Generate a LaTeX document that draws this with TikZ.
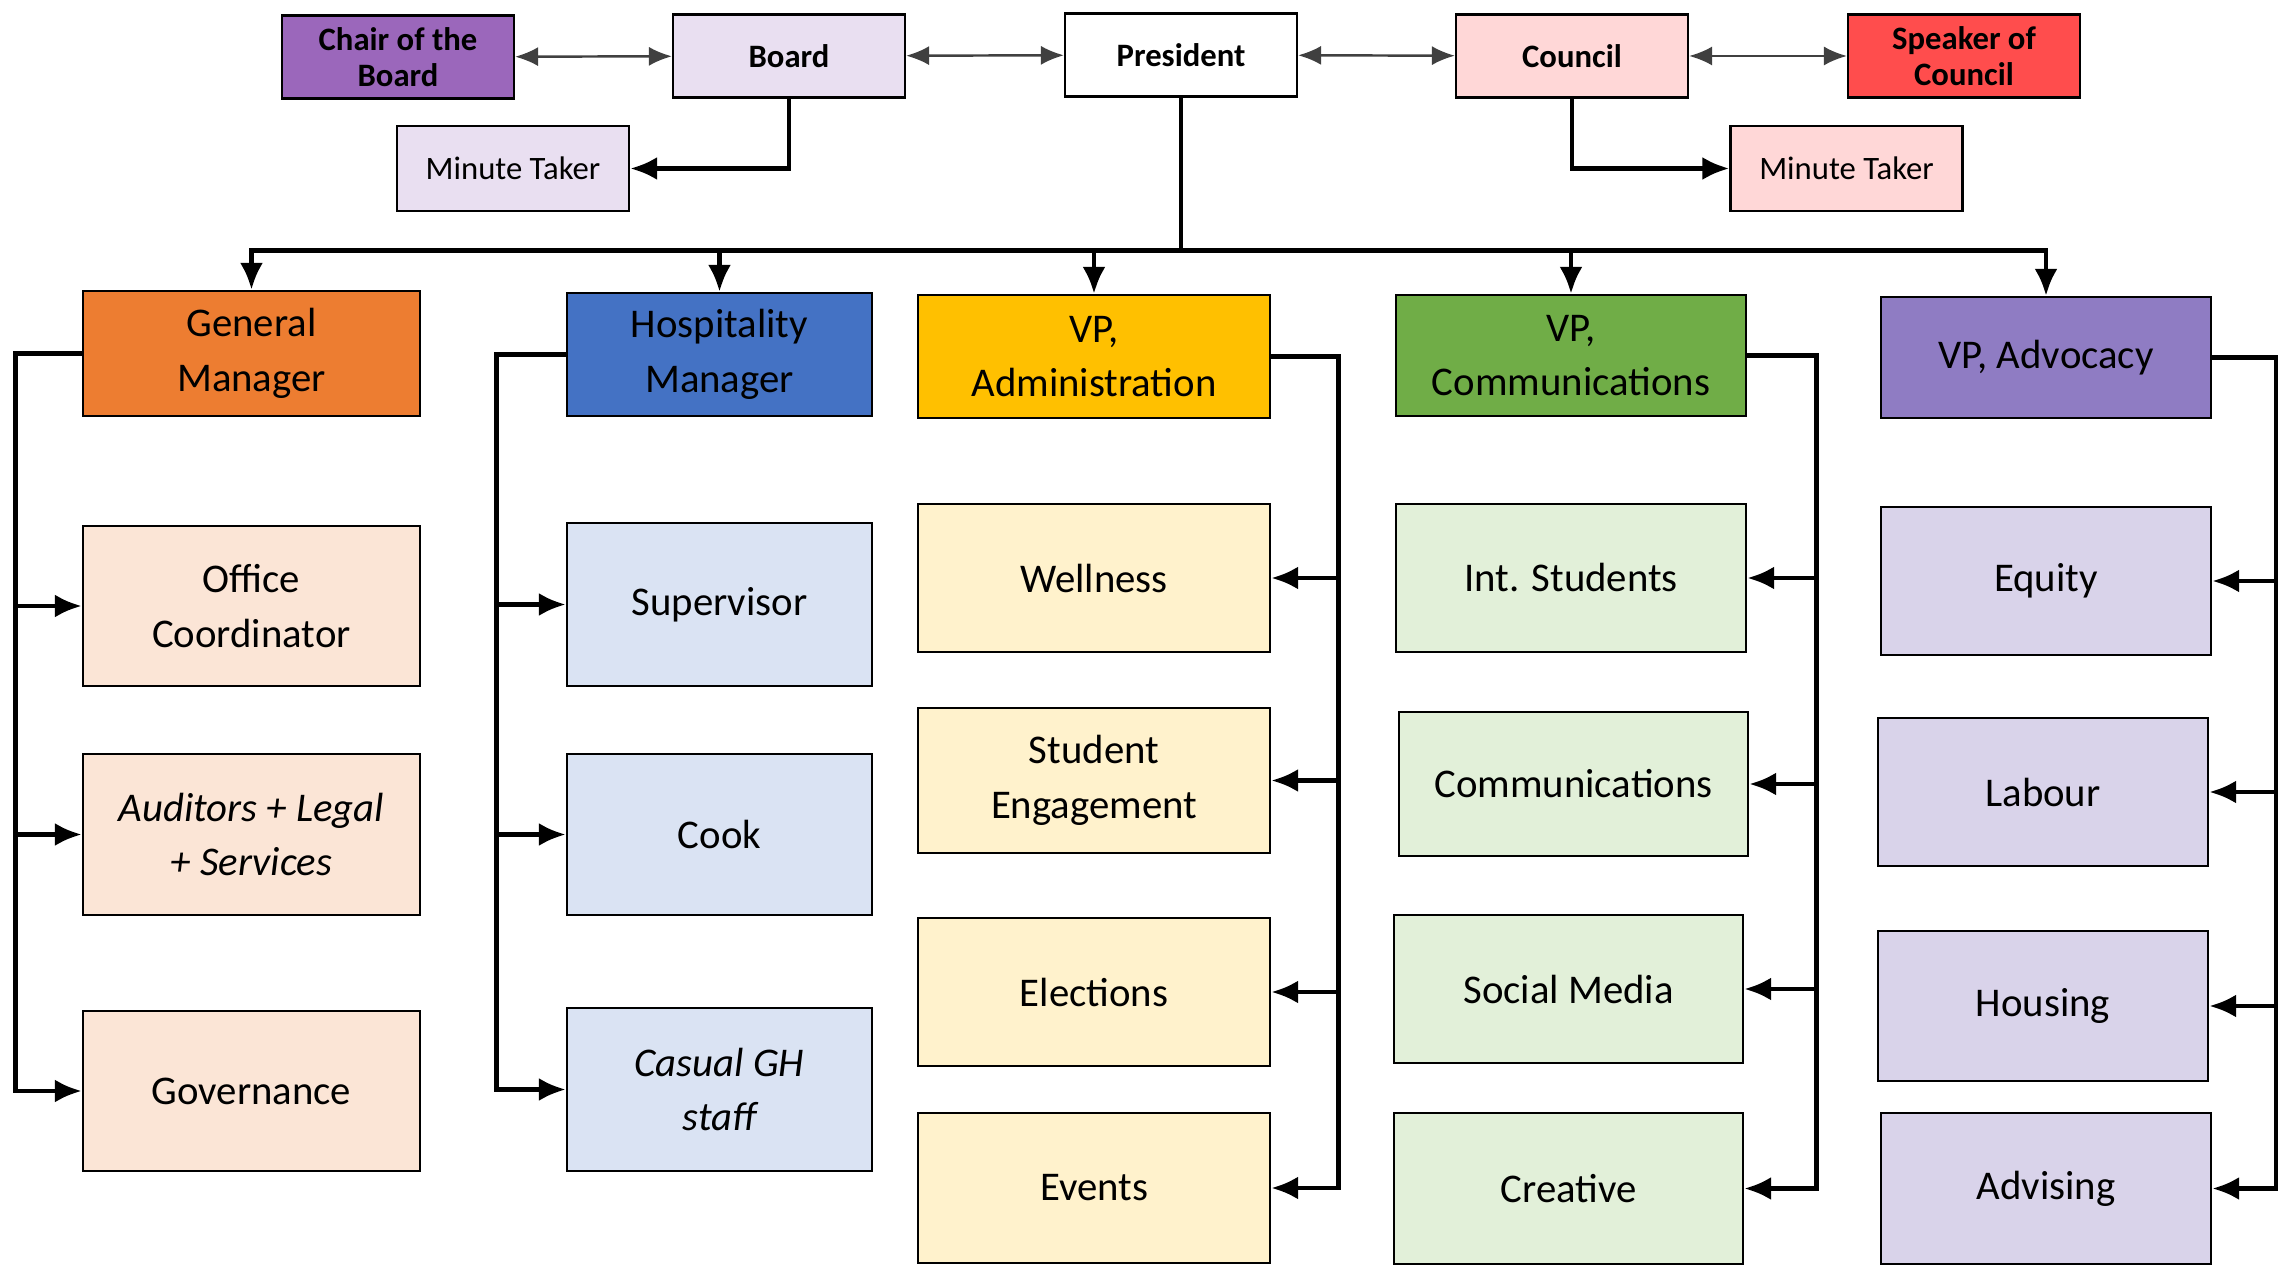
\documentclass[tikz,border=0pt]{standalone}
\usepackage{fontspec}
\setmainfont{Carlito}
\usetikzlibrary{arrows.meta}
\definecolor{chairpurple}{RGB}{155,103,187}
\definecolor{boardlilac}{RGB}{233,223,241}
\definecolor{councilpink}{RGB}{255,215,215}
\definecolor{speakerred}{RGB}{255,77,77}
\definecolor{gmorange}{RGB}{237,125,49}
\definecolor{hospblue}{RGB}{68,114,196}
\definecolor{adminyellow}{RGB}{255,192,0}
\definecolor{commgreen}{RGB}{112,173,71}
\definecolor{advpurple}{RGB}{143,124,195}
\definecolor{peach}{RGB}{251,229,214}
\definecolor{paleblue}{RGB}{218,227,243}
\definecolor{cream}{RGB}{255,242,204}
\definecolor{palegreen}{RGB}{226,240,217}
\definecolor{palelilac}{RGB}{217,211,234}
\tikzset{
    topbox/.style={draw, line width=0.6pt, minimum width=2.32cm, minimum height=0.83cm, inner sep=0, align=center, font=\fontsize{9.3}{10.2}\selectfont\bfseries},
    notebox/.style={topbox, minimum height=0.85cm, font=\fontsize{9.3}{11}\selectfont},
    unitbox/.style={draw, line width=0.6pt, inner sep=0, align=center, font=\fontsize{11.6}{15.5}\selectfont},
    link/.style={-{Latex[length=2.7mm, width=2.3mm]}, line width=1.4pt},
    peer/.style={{Latex[length=2.3mm, width=1.9mm]}-{Latex[length=2.3mm, width=1.9mm]}, line width=0.7pt, black!75}
}

\begin{document}
\begin{tikzpicture}
            \useasboundingbox (0, 0) rectangle (22.78, -12.68);
            \node[topbox, fill=chairpurple] (chair) at (3.98, -0.57) {Chair of the\\Board};
            \node[topbox, fill=boardlilac] (board) at (7.89, -0.56) {Board};
            \node[topbox, fill=white] (pres) at (11.81, -0.55) {President};
            \node[topbox, fill=councilpink] (council) at (15.72, -0.56) {Council};
            \node[topbox, fill=speakerred] (speaker) at (19.64, -0.56) {Speaker of\\Council};
            \node[notebox, fill=boardlilac] (minboard) at (5.13, -1.685) {Minute Taker};
            \node[notebox, fill=councilpink] (mincouncil) at (18.465, -1.685) {Minute Taker};
            \draw[peer] (chair) -- (board);
            \draw[peer] (board) -- (pres);
            \draw[peer] (pres) -- (council);
            \draw[peer] (council) -- (speaker);
            \draw[link] (board.south) |- (minboard.east);
            \draw[link] (council.south) |- (mincouncil.west);

            \node[unitbox, fill=gmorange, minimum width=3.37cm, minimum height=1.25cm] (gm) at (2.515, -3.535) {General\\Manager};
            \node[unitbox, fill=hospblue, minimum width=3.05cm, minimum height=1.23cm] (hosp) at (7.195, -3.545) {Hospitality\\Manager};
            \node[unitbox, fill=adminyellow, minimum width=3.52cm, minimum height=1.23cm] (vpadmin) at (10.94, -3.565) {VP,\\Administration};
            \node[unitbox, fill=commgreen, minimum width=3.50cm, minimum height=1.21cm] (vpcomm) at (15.71, -3.555) {VP,\\Communications};
            \node[unitbox, fill=advpurple, minimum width=3.30cm, minimum height=1.21cm] (vpadv) at (20.46, -3.575) {VP, Advocacy};
            \foreach \head in {gm, hosp, vpadmin, vpcomm, vpadv} {
                \draw[link] (pres.south) -- ++(0, -1.53) -| (\head.north);
            }

            \node[unitbox, fill=peach, minimum width=3.37cm, minimum height=1.60cm] (office) at (2.515, -6.06) {Office\\Coordinator};
            \node[unitbox, fill=peach, minimum width=3.37cm, minimum height=1.61cm] (auditors) at (2.515, -8.345) {\itshape Auditors + Legal\\\itshape + Services};
            \node[unitbox, fill=peach, minimum width=3.37cm, minimum height=1.60cm] (governance) at (2.515, -10.91) {Governance};
            \foreach \unit in {office, auditors, governance} {
                \draw[link] (gm.west) -- ++(-0.66, 0) |- (\unit.west);
            }

            \node[unitbox, fill=paleblue, minimum width=3.05cm, minimum height=1.63cm] (supervisor) at (7.195, -6.045) {Supervisor};
            \node[unitbox, fill=paleblue, minimum width=3.05cm, minimum height=1.61cm] (cook) at (7.195, -8.345) {Cook};
            \node[unitbox, fill=paleblue, minimum width=3.05cm, minimum height=1.63cm] (casual) at (7.195, -10.895) {\itshape Casual GH\\\itshape staff};
            \foreach \unit in {supervisor, cook, casual} {
                \draw[link] (hosp.west) -- ++(-0.69, 0) |- (\unit.west);
            }

            \node[unitbox, fill=cream, minimum width=3.52cm, minimum height=1.48cm] (wellness) at (10.94, -5.78) {Wellness};
            \node[unitbox, fill=cream, minimum width=3.52cm, minimum height=1.45cm] (engagement) at (10.94, -7.805) {Student\\Engagement};
            \node[unitbox, fill=cream, minimum width=3.52cm, minimum height=1.48cm] (elections) at (10.94, -9.92) {Elections};
            \node[unitbox, fill=cream, minimum width=3.52cm, minimum height=1.50cm] (events) at (10.94, -11.88) {Events};
            \foreach \unit in {wellness, engagement, elections, events} {
                \draw[link] (vpadmin.east) -- ++(0.67, 0) |- (\unit.east);
            }

            \node[unitbox, fill=palegreen, minimum width=3.50cm, minimum height=1.48cm] (intl) at (15.71, -5.78) {Int. Students};
            \node[unitbox, fill=palegreen, minimum width=3.49cm, minimum height=1.44cm] (comms) at (15.735, -7.84) {Communications};
            \node[unitbox, fill=palegreen, minimum width=3.49cm, minimum height=1.48cm] (social) at (15.685, -9.89) {Social Media};
            \node[unitbox, fill=palegreen, minimum width=3.49cm, minimum height=1.51cm] (creative) at (15.685, -11.885) {Creative};
            \foreach \unit in {intl, comms, social, creative} {
                \draw[link] (vpcomm.east) -- ++(0.69, 0) |- (\unit.east);
            }

            \node[unitbox, fill=palelilac, minimum width=3.30cm, minimum height=1.48cm] (equity) at (20.46, -5.81) {Equity};
            \node[unitbox, fill=palelilac, minimum width=3.30cm, minimum height=1.48cm] (labour) at (20.43, -7.92) {Labour};
            \node[unitbox, fill=palelilac, minimum width=3.30cm, minimum height=1.50cm] (housing) at (20.43, -10.06) {Housing};
            \node[unitbox, fill=palelilac, minimum width=3.30cm, minimum height=1.51cm] (advising) at (20.46, -11.885) {Advising};
            \foreach \unit in {equity, labour, housing, advising} {
                \draw[link] (vpadv.east) -- ++(0.64, 0) |- (\unit.east);
            }
        \end{tikzpicture}
\end{document}
